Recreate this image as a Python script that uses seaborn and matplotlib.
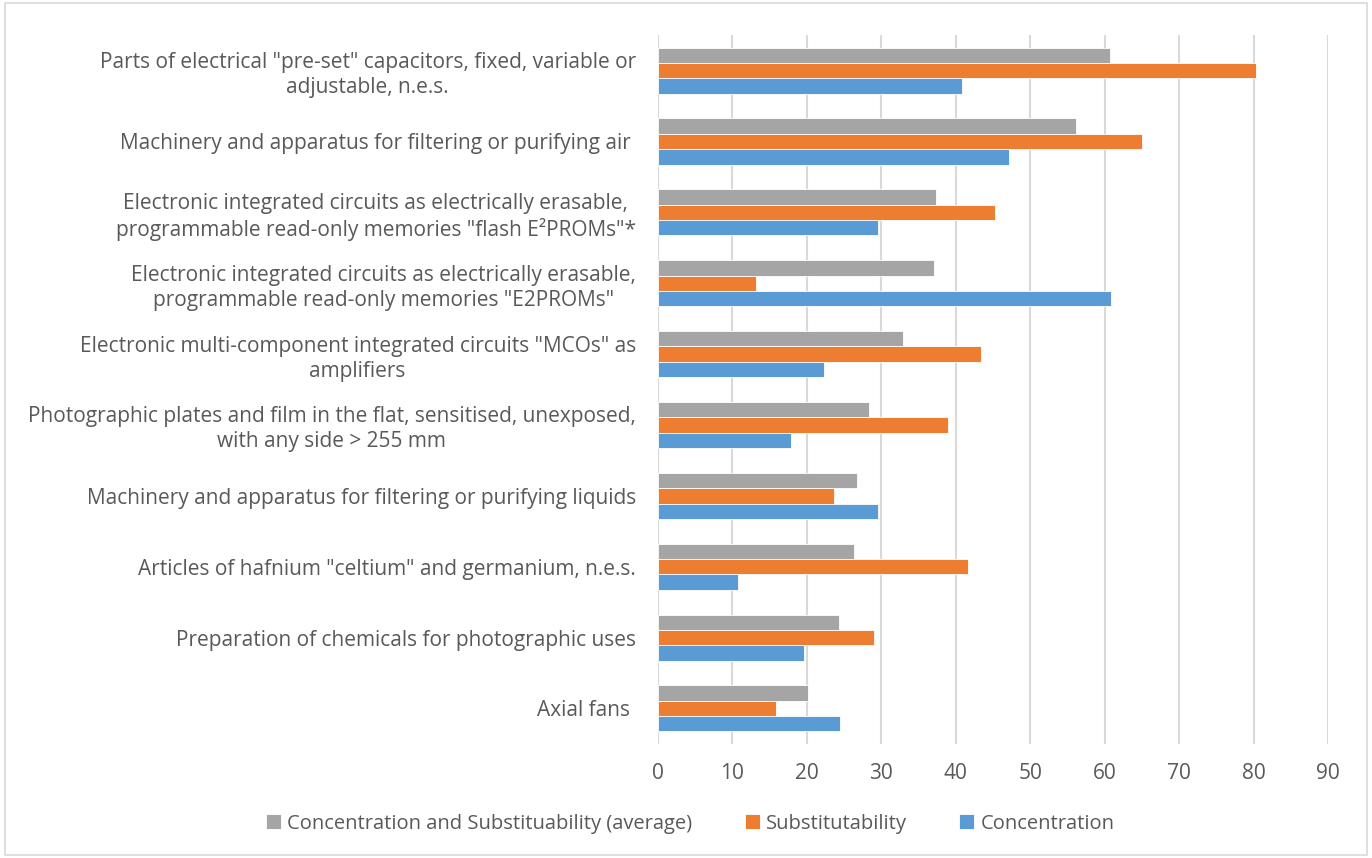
import pandas as pd
import matplotlib.pyplot as plt
import seaborn as sns
from matplotlib.patches import Rectangle

products = [
    'Parts of electrical "pre-set" capacitors, fixed, variable or\nadjustable, n.e.s.',
    'Machinery and apparatus for filtering or purifying air ',
    'Electronic integrated circuits as electrically erasable,\nprogrammable read-only memories "flash E²PROMs"*',
    'Electronic integrated circuits as electrically erasable,\nprogrammable read-only memories "E2PROMs"',
    'Electronic multi-component integrated circuits "MCOs" as\namplifiers',
    'Photographic plates and film in the flat, sensitised, unexposed,\nwith any side > 255 mm',
    'Machinery and apparatus for filtering or purifying liquids',
    'Articles of hafnium "celtium" and germanium, n.e.s.',
    'Preparation of chemicals for photographic uses',
    'Axial fans ',
]
average = [60.7, 56.1, 37.3, 37.1, 32.9, 28.4, 26.7, 26.3, 24.3, 20.2]
substitutability = [80.3, 65.0, 45.2, 13.2, 43.4, 39.0, 23.7, 41.7, 29.0, 15.8]
concentration = [40.8, 47.1, 29.5, 60.8, 22.3, 17.8, 29.5, 10.8, 19.6, 24.4]

series = [
    "Concentration and Substituability (average)",
    "Substitutability",
    "Concentration",
]
colors = ["#A5A5A5", "#ED7D31", "#5B9BD5"]

df = pd.DataFrame({
    "product": products * 3,
    "value": average + substitutability + concentration,
    "series": [s for s in series for _ in products],
})

sns.set_style("white")
plt.rcParams["font.family"] = ["Open Sans", "DejaVu Sans"]
text_color = "#595959"

fig = plt.figure(figsize=(13.72, 8.58), dpi=100)
ax = fig.add_axes([0.4796, 0.133, 0.4884, 0.826])

sns.barplot(df, x="value", y="product", hue="series", hue_order=series,
            palette=colors, orient="h", width=0.65, saturation=1,
            edgecolor="white", linewidth=0.6, ax=ax, zorder=3)

ax.set_xlim(0, 90)
ax.set_xticks(range(0, 91, 10))
ax.grid(axis="x", color="#D9D9D9", linewidth=1.5, zorder=0)
ax.grid(axis="y", visible=False)
for s in ax.spines.values():
    s.set_visible(False)
ax.axvline(0, color="#D9D9D9", linewidth=1.5, zorder=1)
ax.set_xlabel("")
ax.set_ylabel("")
ax.tick_params(axis="x", length=0, pad=14, labelsize=15, labelcolor=text_color)
ax.tick_params(axis="y", length=0, pad=16, labelsize=15, labelcolor=text_color)
for lbl in ax.get_yticklabels():
    lbl.set_multialignment("center")
    lbl.set_linespacing(1.25)

ax.get_legend().remove()
handles, labels = ax.get_legend_handles_labels()
fig.legend(handles, labels, loc="center", ncol=3, bbox_to_anchor=(0.503, 0.04),
           frameon=False, fontsize=14.5, labelcolor=text_color,
           handlelength=0.75, handleheight=0.75, handletextpad=0.3,
           columnspacing=2.6)

fig.patches.append(Rectangle((0.004, 0.004), 0.992, 0.992, transform=fig.transFigure,
                             fill=False, edgecolor="#D9D9D9", linewidth=1.2))

fig.savefig("out.png", dpi=100)
